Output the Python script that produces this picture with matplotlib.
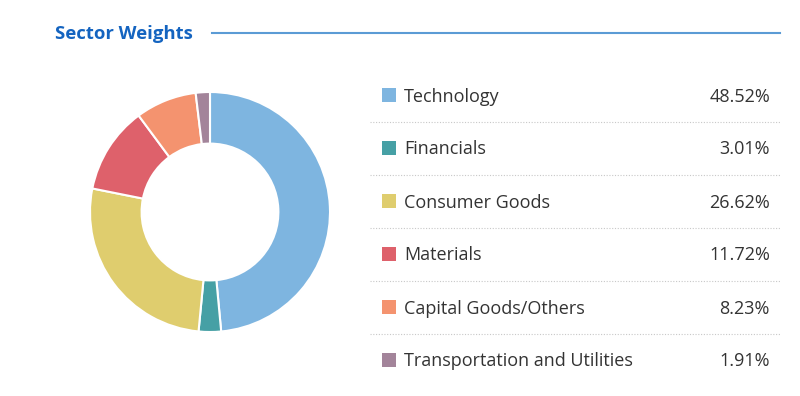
import matplotlib.pyplot as plt

# sector weights (%)
sectors = ['Technology', 'Financials', 'Consumer Goods', 'Materials',
           'Capital Goods/Others', 'Transportation and Utilities']
weights = [48.52, 3.01, 26.62, 11.72, 8.23, 1.91]
colors = ['#7EB5E0', '#46A0A5', '#DFCD6E', '#DE616B', '#F4936F', '#A3849A']

plt.rcParams['font.family'] = ['Open Sans', 'DejaVu Sans']

W, H = 800, 396
fig = plt.figure(figsize=(8, 3.96), dpi=100)

# background axes in pixel coordinates (y down)
bg = fig.add_axes([0, 0, 1, 1])
bg.set_xlim(0, W)
bg.set_ylim(H, 0)
bg.axis('off')

bg.text(55, 34, 'Sector Weights', fontsize=13.3, fontweight='bold',
        color='#1464C0', va='center', ha='left')
bg.plot([212, 780], [33, 33], color='#5B9BD5', lw=1.5)

row_y = [95, 148, 201, 254, 307, 360]
for i, (name, w, c) in enumerate(zip(sectors, weights, colors)):
    y = row_y[i]
    bg.add_patch(plt.Rectangle((382, y - 7), 14, 14, color=c, lw=0))
    bg.text(404, y + 1.5, name, fontsize=13, color='#333333', va='center', ha='left')
    bg.text(770, y + 1.5, f'{w:.2f}%', fontsize=13, color='#333333', va='center', ha='right')
    if i < len(sectors) - 1:
        bg.plot([370, 780], [y + 26.5, y + 26.5], color='#C8C8C8', lw=0.8,
                linestyle=(0, (1, 1.5)))

# donut chart: center (210, 212), radius 120 px
cx, cy, r = 210, 212, 120
ax = fig.add_axes([(cx - r) / W, (H - cy - r) / H, 2 * r / W, 2 * r / H])
ax.pie(weights, colors=colors, startangle=90, counterclock=False,
       radius=1, wedgeprops=dict(width=0.43, edgecolor='white', linewidth=1.5))
ax.set_xlim(-1.0, 1.0)
ax.set_ylim(-1.0, 1.0)
ax.set_aspect('equal')
ax.axis('off')

fig.savefig('out.png', dpi=100)
